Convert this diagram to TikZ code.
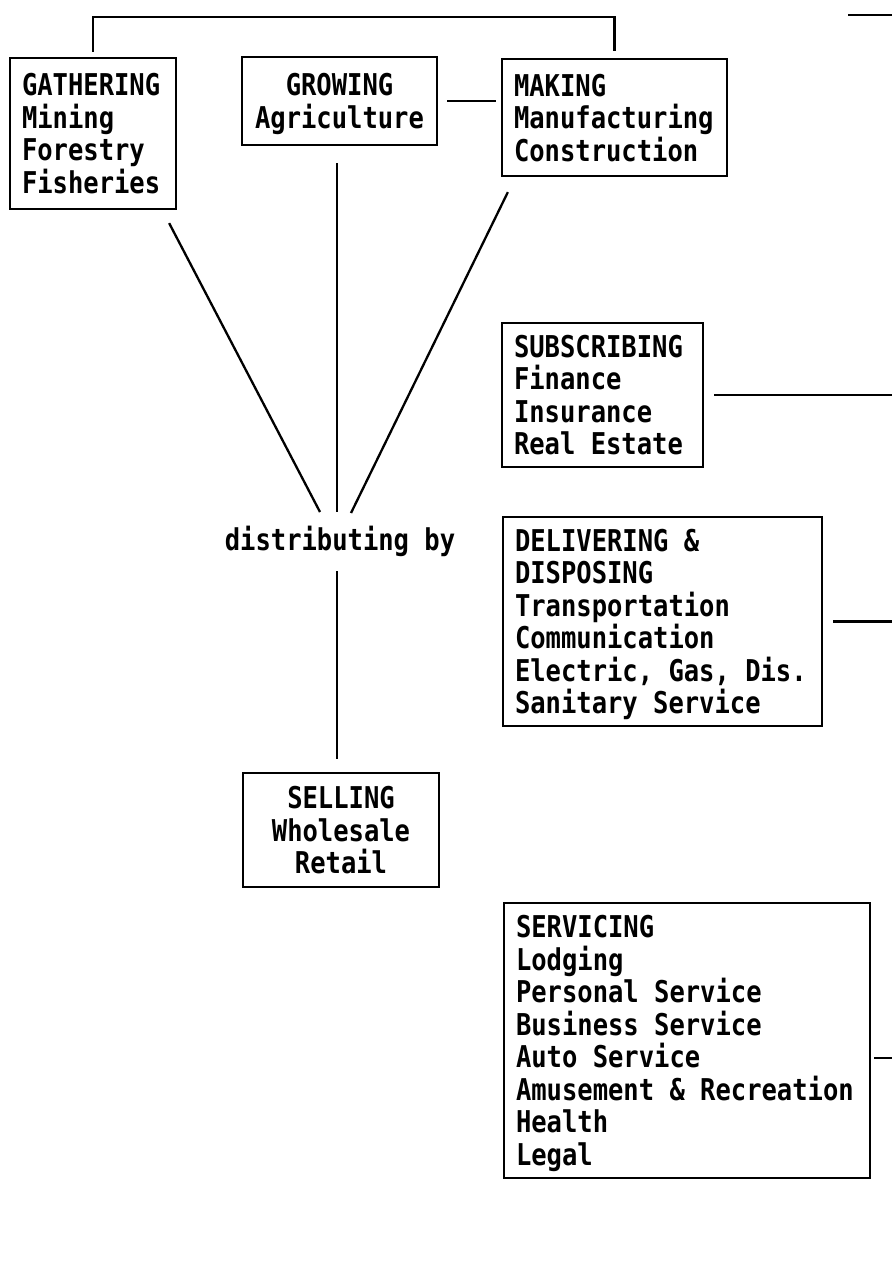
\documentclass[tikz,border=0pt]{standalone}
\usepackage{fontspec}
\newfontfamily\typewriter{DejaVu Sans Mono}[FakeStretch=0.85]
\usetikzlibrary{positioning}
\newcommand{\typeface}{\typewriter\bfseries\fontsize{30}{32.5}\selectfont}
\newcommand{\monospace}{\spaceskip=\fontcharwd\font`x\relax\xspaceskip=\spaceskip}
\tikzset{
  sector/.style={
    rectangle,
    draw=black, line width=2.3pt,
    font=\typeface,
    inner xsep=12pt, inner ysep=0pt,
    align=left,
    execute at begin node=\monospace},
  caption/.style={
    font=\typeface,
    inner sep=0pt},
  link/.style={draw, line width=2.3pt},
}
\newcommand{\flushdepth}{\par\kern-\prevdepth}

\begin{document}
\begin{tikzpicture}[x=1pt,y=-1pt]

    \path[use as bounding box, fill=white] (0,0) rectangle (892,1276);

    \node[sector, text width=142pt, minimum height=151pt] (gather) at (93,133.5)
        {GATHERING\\Mining\\Forestry\\Fisheries\flushdepth};
    \node[sector, align=center, text width=171pt, minimum height=88pt] (grow) at (339.5,101)
        {GROWING\\Agriculture\flushdepth};
    \node[sector, text width=201pt, minimum height=117pt] (make) at (614.5,117.5)
        {MAKING\\Manufacturing\\Construction\flushdepth};

    \node[sector, text width=177pt, minimum height=144pt] (subscr) at (602.5,395)
        {SUBSCRIBING\\Finance\\Insurance\\Real Estate\flushdepth};
    \node[sector, text width=295pt, minimum height=209pt] (deliver) at (662.5,621.5)
        {DELIVERING \&\\DISPOSING\\Transportation\\Communication\\Electric, Gas, Dis.\\Sanitary Service\flushdepth};

    \node[caption, anchor=base] (dist) at (340,550) {distributing by};

    \node[sector, align=center, text width=172pt, minimum height=114pt] (sell) at (341,830)
        {SELLING\\Wholesale\\Retail\flushdepth};

    \node[sector, text width=342pt, minimum height=275pt] (serve) at (687,1040.5)
        {SERVICING\\Lodging\\Personal Service\\Business Service\\Auto Service\\Amusement \& Recreation\\Health\\Legal\flushdepth};

    % connectors
    \coordinate (top) at (350,17);
    \coordinate (corner a) at (848,15);
    \coordinate (corner b) at (892,15);
    \coordinate (margin) at (892,0);
    \coordinate (fan l) at (320,512);
    \coordinate (fan c) at (337,512);
    \coordinate (fan r) at (351,513);
    \coordinate (serve tap) at ([yshift=-17.5pt]serve.east);

    \draw[link, shorten <=5pt, shorten >=7pt] (gather.north) |- (top) -| (make.north);
    \draw[link] (corner a) -- (corner b);
    \draw[link, shorten <=9pt, shorten >=5pt] (grow.east) -- (make.west |- grow.east);

    \draw[link] ([xshift=-8pt,yshift=-13pt]gather.south east) -- (fan l);
    \draw[link, shorten <=17pt] (grow.south -| fan c) -- (fan c);
    \draw[link] ([xshift=7pt,yshift=-15pt]make.south west) -- (fan r);
    \draw[link, shorten <=15pt, shorten >=13pt] (dist.south -| fan c) -- (sell.north -| fan c);

    \draw[link, shorten <=10pt] (subscr.east) -- (subscr.east -| margin);
    \draw[link, shorten <=10pt] (deliver.east) -- (deliver.east -| margin);
    \draw[link, shorten <=3pt] (serve tap) -- (serve tap -| margin);
\end{tikzpicture}
\end{document}
